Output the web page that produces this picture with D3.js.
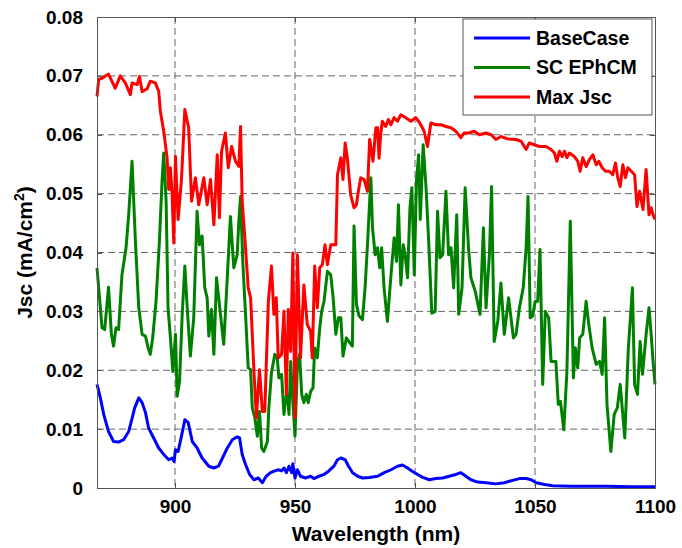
<html>
<head>
<script src="https://d3js.org/d3.v7.min.js"></script>
<style>
body {
    margin: 0;
    padding: 0;
    background: #fff;
}

svg {
    font-family: "Liberation Sans", Arial, sans-serif;
    font-weight: bold;
}

.grid line {
    stroke: #666;
    stroke-width: 1;
    stroke-dasharray: 7,4;
}

.axis path, .axis line {
    stroke: #555;
    stroke-width: 1;
    shape-rendering: crispEdges;
}

.axis text {
    fill: #000;
    font-size: 19px;
    font-weight: bold;
}

.series {
    fill: none;
    stroke-width: 3;
    stroke-linejoin: round;
}
</style>
</head>
<body>
<script>
// Max Jsc (red)
var redWl = [867.5,868.2,869.6,872.3,875.1,877.2,879.3,881.4,882.1,884.2,885.2,886.3,888.4,889.7,891.8,893.2,893.9,895.3,896.7,897.4,898.1,898.8,899.5,900.2,901.3,902.7,904.1,905.7,906.9,908.5,909.9,912,913.4,914.8,916.2,917.6,918.5,919.4,921,922.2,923.6,925.2,926.6,927.3,928,929.1,930.5,931.5,932.9,933.9,935.2,936.4,937.4,938.9,940.2,941.2,942.2,943,944.4,945.4,946.4,947.2,948.2,949.1,950,951,952.3,953.7,955.1,956.5,957.2,958.2,959.3,960.3,961.4,962.5,963.5,964.9,967,967.7,969.1,970,970.9,971.8,973.2,974.6,975.6,976.4,977.4,978.8,980.2,981.1,982.5,983.7,984.4,985,985.7,986.4,987.8,988.9,989.9,991.3,992.7,994.1,996.2,998.3,1000.3,1002,1003.8,1005.2,1006.6,1008.7,1010.8,1012.9,1015,1017,1019.1,1020.5,1022.6,1024.7,1026.8,1029.6,1031.7,1033.7,1035.8,1038.6,1042.1,1044.2,1046.3,1047.6,1049.7,1051.8,1054.6,1056.7,1058.1,1059.1,1060.2,1061.3,1062.3,1063.3,1064.3,1066.4,1067.8,1068.8,1069.9,1071.3,1072.7,1074.1,1075.5,1076.6,1078,1079.4,1081,1082.4,1083.5,1084.5,1085.5,1086.6,1087.7,1088.7,1090.1,1091.5,1092.5,1093.6,1095,1096.3,1097.5,1098.4,1099.2,1100];
var redJsc = [0.0665,0.0694,0.0696,0.0703,0.0679,0.0700,0.0688,0.0668,0.0688,0.0685,0.0699,0.0673,0.0678,0.0691,0.0688,0.0674,0.0640,0.0606,0.0561,0.0507,0.0544,0.0498,0.0416,0.0563,0.0456,0.0524,0.0643,0.0612,0.0487,0.0527,0.0481,0.0527,0.0481,0.0524,0.0447,0.0566,0.0459,0.0572,0.0603,0.0544,0.0580,0.0555,0.0546,0.0614,0.0487,0.0425,0.0340,0.0323,0.0198,0.0119,0.0201,0.0130,0.0130,0.0317,0.0377,0.0295,0.0323,0.0221,0.0227,0.0300,0.0159,0.0303,0.0232,0.0399,0.0119,0.0396,0.0221,0.0345,0.0278,0.0266,0.0221,0.0377,0.0306,0.0374,0.0379,0.0413,0.0379,0.0413,0.0413,0.0532,0.0561,0.0524,0.0586,0.0561,0.0498,0.0476,0.0481,0.0504,0.0527,0.0524,0.0504,0.0592,0.0555,0.0612,0.0612,0.0560,0.0600,0.0623,0.0614,0.0626,0.0617,0.0629,0.0623,0.0634,0.0629,0.0623,0.0629,0.0620,0.0606,0.0580,0.0620,0.0617,0.0617,0.0614,0.0612,0.0606,0.0595,0.0603,0.0603,0.0606,0.0600,0.0603,0.0600,0.0592,0.0597,0.0593,0.0592,0.0589,0.0575,0.0586,0.0583,0.0580,0.0580,0.0575,0.0569,0.0555,0.0572,0.0563,0.0572,0.0561,0.0569,0.0563,0.0555,0.0538,0.0561,0.0546,0.0558,0.0566,0.0549,0.0555,0.0544,0.0538,0.0538,0.0532,0.0552,0.0527,0.0512,0.0549,0.0527,0.0544,0.0538,0.0532,0.0478,0.0504,0.0473,0.0541,0.0464,0.0476,0.0464,0.0456];

// SC EPhCM (green)
var greenWl = [867.5,868.9,869.6,870.7,872.3,873.5,874.4,875.4,876.5,877.9,879.6,880.7,882.1,883.5,884.9,886.3,887.7,888.8,889.7,890.7,892.1,893.5,894.6,895.3,896.3,897.1,898.1,899.1,900.2,900.9,901.9,903,904.1,905.1,906.4,907.8,909.2,910.2,911.3,912.4,913.4,914.1,915.2,916.2,917.3,918.5,920.3,921.7,923.1,924.5,925.9,926.6,927.3,928.3,929.4,930.5,931.5,932.2,933.3,934.3,935.2,936.1,937,938.5,939.1,940.2,941.6,942.6,943.3,944.4,945.4,946.1,946.8,947.5,948.2,949.1,950,951,951.9,952.8,953.7,954.7,955.5,956.5,957.5,958.2,959.3,960.3,961.1,962.1,963.5,964.9,965.9,967,968.1,969.1,970,971.4,972.8,973.9,974.6,975.6,976.7,978.1,979.2,980.2,981.6,982.3,983.4,984.4,985.3,986.1,987.1,988.5,989.9,991.3,992.3,993.1,994.1,995.1,995.9,996.9,997.9,998.7,999.7,1000.6,1001.5,1002.2,1003.4,1004.6,1005.7,1007,1008.4,1009.4,1010.4,1011.5,1012.9,1014,1015,1016.1,1017.4,1018.2,1019.6,1020.9,1022.3,1023.3,1025.1,1027.1,1028.5,1029.6,1031,1031.9,1033,1034.5,1035.8,1037.2,1039,1041,1042.1,1043.5,1045.1,1046.3,1047.1,1048,1049,1050.1,1051.1,1052.1,1053.2,1054.3,1055.7,1056.7,1058.7,1059.7,1060.6,1062,1063.3,1064.7,1066,1066.8,1067.8,1068.6,1069.9,1071.3,1072.4,1073.8,1075.5,1076.9,1078,1079,1080,1081.6,1083,1084.3,1085.5,1087.4,1088.9,1090.6,1091.5,1092.7,1093.8,1094.8,1096.3,1097.5,1098.4,1099.2,1100];
var greenJsc = [0.0374,0.0306,0.0272,0.0269,0.0341,0.0261,0.0241,0.0272,0.0269,0.0362,0.0408,0.0464,0.0555,0.0419,0.0306,0.0261,0.0258,0.0238,0.0227,0.0255,0.0317,0.0419,0.0521,0.0569,0.0487,0.0306,0.0255,0.0198,0.0261,0.0156,0.0181,0.0295,0.0377,0.0306,0.0224,0.0289,0.0470,0.0413,0.0428,0.0340,0.0323,0.0258,0.0303,0.0227,0.0357,0.0312,0.0244,0.0351,0.0461,0.0374,0.0396,0.0453,0.0495,0.0379,0.0295,0.0204,0.0201,0.0136,0.0119,0.0088,0.0130,0.0068,0.0062,0.0079,0.0136,0.0196,0.0227,0.0221,0.0187,0.0193,0.0125,0.0153,0.0159,0.0125,0.0215,0.0147,0.0088,0.0210,0.0227,0.0159,0.0145,0.0159,0.0145,0.0164,0.0170,0.0238,0.0221,0.0272,0.0300,0.0317,0.0368,0.0362,0.0323,0.0261,0.0289,0.0289,0.0224,0.0255,0.0247,0.0241,0.0445,0.0312,0.0292,0.0286,0.0340,0.0413,0.0527,0.0442,0.0396,0.0408,0.0374,0.0408,0.0340,0.0283,0.0357,0.0425,0.0385,0.0481,0.0345,0.0413,0.0396,0.0357,0.0476,0.0510,0.0362,0.0521,0.0566,0.0456,0.0583,0.0510,0.0419,0.0297,0.0300,0.0470,0.0391,0.0396,0.0504,0.0396,0.0408,0.0340,0.0464,0.0295,0.0340,0.0510,0.0408,0.0357,0.0334,0.0295,0.0442,0.0306,0.0396,0.0512,0.0249,0.0283,0.0348,0.0261,0.0323,0.0255,0.0261,0.0306,0.0340,0.0408,0.0495,0.0289,0.0292,0.0317,0.0317,0.0405,0.0176,0.0300,0.0289,0.0215,0.0215,0.0142,0.0147,0.0099,0.0198,0.0453,0.0187,0.0238,0.0204,0.0255,0.0261,0.0317,0.0278,0.0238,0.0210,0.0215,0.0193,0.0289,0.0142,0.0062,0.0125,0.0136,0.0176,0.0085,0.0238,0.0340,0.0176,0.0159,0.0249,0.0193,0.0261,0.0306,0.0261,0.0215,0.0176];

// BaseCase (blue)
var blueWl = [867.5,868.9,870.3,872.3,874.4,876.5,878.6,880.7,881.8,883.2,884.9,886.3,887.7,889,891.1,893.2,895.3,897.4,898.8,899.6,900.2,901.3,902.7,904.1,905.5,907.2,909.2,911.3,914.1,916.2,918.1,919.8,921.8,923.9,925.9,926.9,928,929.4,931.1,932.9,934.7,936.4,938,939.8,941.6,943,944.4,945.4,946.4,947.5,948.6,949.1,950,951,952.3,954.4,956.5,957.9,960,962.1,964.1,966.2,967.7,969.1,970.9,972.3,974,976.1,978.1,980.9,984.4,987.2,990,992.7,994.8,996.9,999,1001.1,1003.2,1006,1008.7,1011.5,1014.3,1017,1019.1,1021.2,1023.3,1026.1,1029.6,1033.7,1037.2,1040.7,1043.5,1046.3,1048.4,1050.5,1054,1057.4,1065,1080,1090,1100];
var blueJsc = [0.0176,0.0153,0.0125,0.0096,0.0079,0.0078,0.0082,0.0096,0.0113,0.0136,0.0153,0.0145,0.0128,0.0102,0.0085,0.0068,0.0057,0.0048,0.0051,0.0045,0.0065,0.0062,0.0088,0.0116,0.0111,0.0079,0.0068,0.0051,0.0037,0.0034,0.0037,0.0051,0.0068,0.0082,0.0087,0.0085,0.0057,0.0040,0.0023,0.0014,0.0017,0.0009,0.0020,0.0026,0.0029,0.0031,0.0029,0.0034,0.0026,0.0037,0.0026,0.0041,0.0017,0.0031,0.0020,0.0017,0.0020,0.0016,0.0020,0.0023,0.0029,0.0037,0.0048,0.0051,0.0048,0.0037,0.0026,0.0020,0.0017,0.0018,0.0020,0.0026,0.0031,0.0037,0.0039,0.0034,0.0028,0.0023,0.0018,0.0014,0.0016,0.0017,0.0020,0.0023,0.0026,0.0020,0.0014,0.0010,0.0009,0.0007,0.0009,0.0013,0.0016,0.0016,0.0014,0.0009,0.0006,0.0004,0.0003,0.0003,0.0002,0.0002];

var xTicks = [900, 950, 1000, 1050, 1100];
var yTicks = [0, 0.01, 0.02, 0.03, 0.04, 0.05, 0.06, 0.07, 0.08];
var seriesNames = ["BaseCase", "SC EPhCM", "Max Jsc"];
var seriesColors = ["#0000ff", "#008000", "#ff0000"];

var margin = {top: 17, right: 27, bottom: 60, left: 97};
var W = 682, H = 548;
var width = W - margin.left - margin.right;
var height = H - margin.top - margin.bottom;

var x = d3.scaleLinear().domain([867.5, 1100]).range([0, width]);
var y = d3.scaleLinear().domain([0, 0.08]).range([height, 0]);

var svg = d3.select("body")
    .append("svg")
    .attr("width", W)
    .attr("height", H);

var g = svg.append("g")
    .attr("transform", "translate(" + margin.left + "," + margin.top + ")");

// grid
g.append("g")
    .attr("class", "grid")
    .selectAll("line")
    .data(xTicks.slice(0, -1))
    .enter().append("line")
    .attr("x1", function (d) { return x(d); })
    .attr("x2", function (d) { return x(d); })
    .attr("y1", 0)
    .attr("y2", height);

g.append("g")
    .attr("class", "grid")
    .selectAll("line")
    .data(yTicks.slice(1, -1))
    .enter().append("line")
    .attr("x1", 0)
    .attr("x2", width)
    .attr("y1", function (d) { return y(d); })
    .attr("y2", function (d) { return y(d); });

// lines
var line = d3.line()
    .x(function (d) { return x(d[0]); })
    .y(function (d) { return y(d[1]); });

var series = [
    d3.zip(blueWl, blueJsc),
    d3.zip(greenWl, greenJsc),
    d3.zip(redWl, redJsc)
];

g.selectAll(".series")
    .data(series)
    .enter().append("path")
    .attr("class", "series")
    .attr("stroke", function (d, i) { return seriesColors[i]; })
    .attr("d", line);

// axes (MATLAB style box, ticks inside)
var xAxis = d3.axisBottom(x).tickValues(xTicks).tickSizeInner(-5).tickSizeOuter(0).tickPadding(12)
    .tickFormat(d3.format("d"));
var yAxis = d3.axisLeft(y).tickValues(yTicks).tickSizeInner(-5).tickSizeOuter(0).tickPadding(14)
    .tickFormat(function (d) { return d === 0 ? "0" : d3.format(".2f")(d); });

g.append("g")
    .attr("class", "x axis")
    .attr("transform", "translate(0," + height + ")")
    .call(xAxis);

g.append("g")
    .attr("class", "y axis")
    .call(yAxis);

g.append("g")
    .attr("class", "axis")
    .call(d3.axisTop(x).tickValues(xTicks).tickSizeInner(-5).tickSizeOuter(0).tickFormat(""));

g.append("g")
    .attr("class", "axis")
    .attr("transform", "translate(" + width + ",0)")
    .call(d3.axisRight(y).tickValues(yTicks).tickSizeInner(-5).tickSizeOuter(0).tickFormat(""));

// axis titles
svg.append("text")
    .attr("x", margin.left + width / 2)
    .attr("y", 541)
    .attr("text-anchor", "middle")
    .style("font-size", "21px")
    .text("Wavelength (nm)");

var yt = svg.append("text")
    .attr("transform", "translate(32," + (margin.top + height / 2) + ") rotate(-90)")
    .attr("text-anchor", "middle")
    .style("font-size", "21px");
yt.append("tspan").text("Jsc (mA/cm");
yt.append("tspan").attr("dy", -8).style("font-size", "14px").text("2");
yt.append("tspan").attr("dy", 8).text(")");

// legend
var lg = svg.append("g").attr("transform", "translate(463,19)");
lg.append("rect")
    .attr("width", 189)
    .attr("height", 96)
    .attr("fill", "#fff")
    .attr("stroke", "#555")
    .attr("stroke-width", 1);

var item = lg.selectAll(".item")
    .data(seriesNames)
    .enter().append("g")
    .attr("transform", function (d, i) { return "translate(0," + (19 + i * 29.5) + ")"; });

item.append("line")
    .attr("x1", 11)
    .attr("x2", 67)
    .attr("stroke", function (d, i) { return seriesColors[i]; })
    .attr("stroke-width", 3);

item.append("text")
    .attr("x", 73)
    .attr("dy", "0.35em")
    .style("font-size", "19.5px")
    .text(function (d) { return d; });
</script>
</body>
</html>
